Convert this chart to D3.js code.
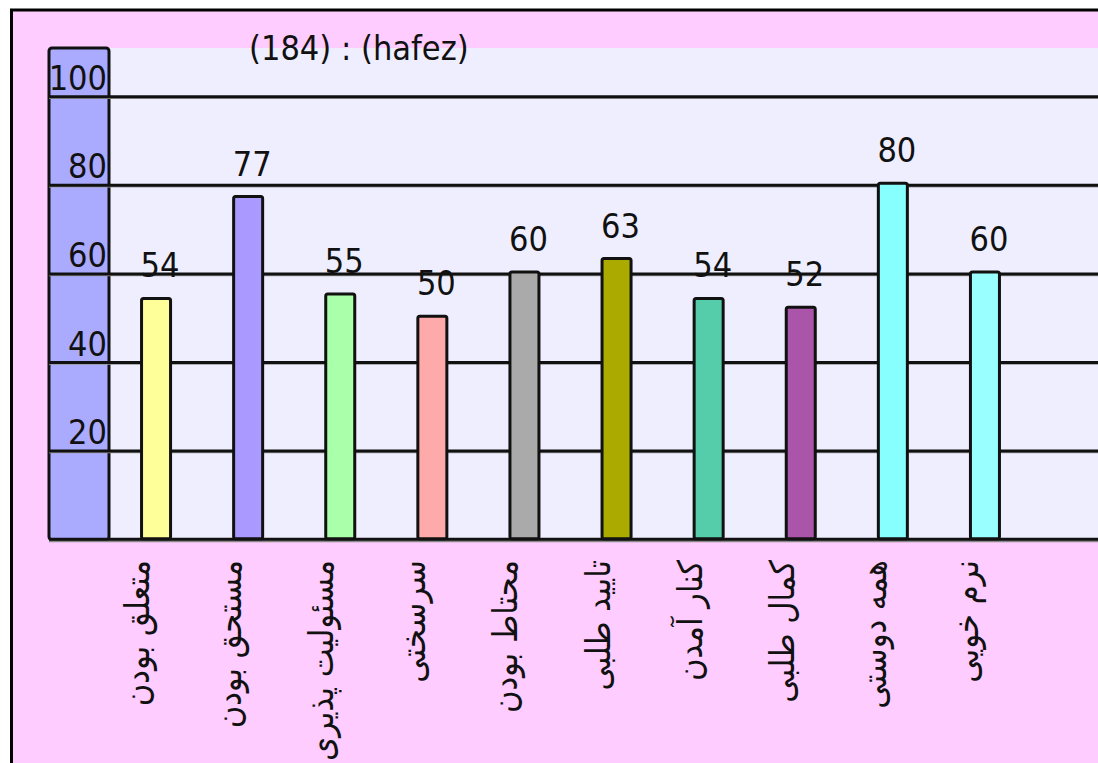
<!DOCTYPE html>
<html>
<head>
<meta charset="utf-8">
<script src="https://cdn.jsdelivr.net/npm/d3@7/dist/d3.min.js"></script>
<style>
  html, body { margin: 0; padding: 0; background: #ffffff; }
  svg { display: block; }
  text { font-family: "DejaVu Sans Condensed", "DejaVu Sans", sans-serif; font-stretch: condensed; fill: #111; }
</style>
</head>
<body>
<svg id="chart" width="1098" height="763"></svg>
<script>
const title = "(184) : (hafez)";
const categories = ["متعلق بودن", "مستحق بودن", "مسئولیت پذیری", "سرسختی", "محتاط بودن",
                    "تایید طلبی", "کنار آمدن", "کمال طلبی", "همه دوستی", "نرم خویی"];
const values = [54, 77, 55, 50, 60, 63, 54, 52, 80, 60];
const barColors = ["#ffff99", "#aa99ff", "#aaffaa", "#ffaaaa", "#aaaaaa",
                   "#aaaa00", "#55ccaa", "#aa55aa", "#88ffff", "#99ffff"];
const yTicks = [20, 40, 60, 80, 100];

const W = 1098, H = 763;
const svg = d3.select("#chart");

// layout
const frameL = 11.5, frameT = 10;
const axisColL = 49, axisColR = 109;
const plotTop = 48, plotRight = 1200;

const y = d3.scaleLinear().domain([0, 100]).range([539.7, 96.7]);
const x = d3.scaleBand().domain(categories).range([110, 1031]).padding(0);
const barW = x.bandwidth() * 0.315;

// white outside + pink page
svg.append("rect").attr("x", 0).attr("y", 0).attr("width", W).attr("height", H).attr("fill", "#ffffff");
svg.append("rect").attr("x", frameL).attr("y", frameT).attr("width", W + 20).attr("height", H + 20)
  .attr("fill", "#ffccff").attr("stroke", "#000").attr("stroke-width", 3);

// plot background
svg.append("rect").attr("x", axisColR).attr("y", plotTop)
  .attr("width", plotRight - axisColR).attr("height", y(0) - plotTop)
  .attr("fill", "#eeeeff");

// y-axis column
svg.append("rect").attr("x", axisColL).attr("y", plotTop)
  .attr("width", axisColR - axisColL).attr("height", y(0) - plotTop)
  .attr("rx", 3).attr("fill", "#aaaaff").attr("stroke", "#111").attr("stroke-width", 3);

// gridlines
const grid = svg.append("g");
grid.selectAll("line.shadow").data(yTicks).join("line").attr("class", "shadow")
  .attr("x1", axisColL).attr("x2", plotRight)
  .attr("y1", d => y(d) + 1.5).attr("y2", d => y(d) + 1.5)
  .attr("stroke", "#999").attr("stroke-width", 1.5);
grid.selectAll("line.g").data(yTicks).join("line").attr("class", "g")
  .attr("x1", axisColL).attr("x2", plotRight)
  .attr("y1", d => y(d)).attr("y2", d => y(d))
  .attr("stroke", "#111").attr("stroke-width", 3);

// tick labels
svg.append("g").selectAll("text").data(yTicks).join("text")
  .attr("x", 107).attr("y", d => y(d) - 7)
  .attr("text-anchor", "end").attr("font-size", 34)
  .text(d => d);

// baseline
svg.append("line").attr("x1", axisColL).attr("x2", plotRight)
  .attr("y1", y(0) + 1.5).attr("y2", y(0) + 1.5).attr("stroke", "#888").attr("stroke-width", 2);
svg.append("line").attr("x1", axisColL).attr("x2", plotRight)
  .attr("y1", y(0) - 0.5).attr("y2", y(0) - 0.5).attr("stroke", "#111").attr("stroke-width", 3);

// bars
const cx = d => x(d) + x.bandwidth() / 2;
svg.append("g").selectAll("rect").data(categories).join("rect")
  .attr("x", d => cx(d) - barW / 2)
  .attr("y", (d, i) => y(values[i]) - 2)
  .attr("width", barW)
  .attr("height", (d, i) => y(0) - y(values[i]) + 1)
  .attr("rx", 2)
  .attr("fill", (d, i) => barColors[i])
  .attr("stroke", "#111").attr("stroke-width", 3);

// value labels
svg.append("g").selectAll("text").data(categories).join("text")
  .attr("x", d => cx(d) + 4)
  .attr("y", (d, i) => y(values[i]) - 23)
  .attr("text-anchor", "middle").attr("font-size", 34)
  .text((d, i) => values[i]);

// category labels
svg.append("g").selectAll("text").data(categories).join("text")
  .attr("transform", d => `translate(${cx(d) - 7},560) rotate(-90)`)
  .attr("text-anchor", "end").attr("font-size", 34)
  .text(d => d);

// title
svg.append("text").attr("x", 249).attr("y", 60).attr("font-size", 34).text(title);
</script>
</body>
</html>
